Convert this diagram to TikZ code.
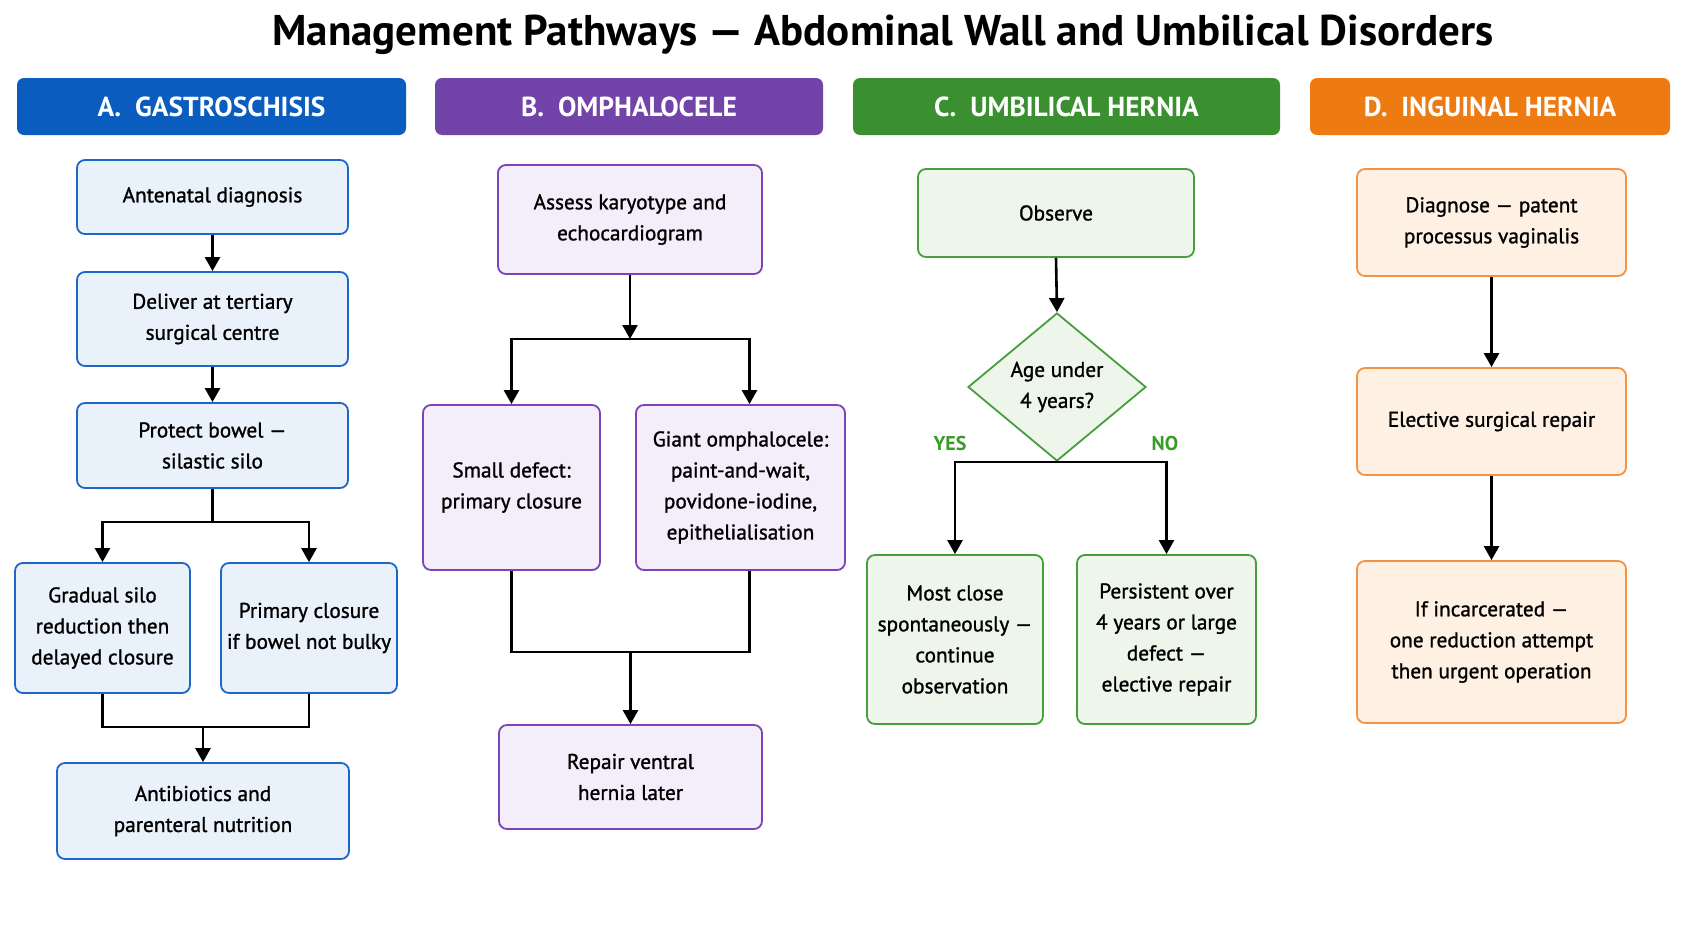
\documentclass[tikz,border=0pt]{standalone}
\usepackage{fontspec}
\setmainfont{PT Sans}
\newfontfamily\medfont[FakeBold=1.2]{PT Sans}
\usetikzlibrary{arrows.meta,shapes.geometric}
\definecolor{blueH}{HTML}{0B5CBF}
\definecolor{blueB}{HTML}{1F66C9}
\definecolor{blueF}{HTML}{E9F1FB}
\definecolor{purpH}{HTML}{7243A8}
\definecolor{purpB}{HTML}{7C44B5}
\definecolor{purpF}{HTML}{F3EEF9}
\definecolor{grnH}{HTML}{3A9030}
\definecolor{grnB}{HTML}{45A03A}
\definecolor{grnF}{HTML}{EEF6EC}
\definecolor{grnT}{HTML}{3A9A2A}
\definecolor{orgH}{HTML}{EE7A12}
\definecolor{orgB}{HTML}{F39243}
\definecolor{orgF}{HTML}{FEF1E4}
\tikzset{
  hdr/.style={rounded corners=7pt, minimum height=57pt, inner sep=0pt, text=white,
    font=\fontsize{27.5}{32}\selectfont\bfseries},
  box/.style={rounded corners=8pt, line width=1.8pt, inner sep=0pt, align=center,
    font=\medfont\fontsize{21.3}{31}\selectfont},
  bbox/.style={box, draw=blueB, fill=blueF},
  pbox/.style={box, draw=purpB, fill=purpF},
  gbox/.style={box, draw=grnB, fill=grnF},
  obox/.style={box, draw=orgB, fill=orgF},
  arr/.style={line width=2.6pt, -{Triangle[length=14pt,width=15pt]}},
  ln/.style={line width=2.6pt},
  lbl/.style={text=grnT, font=\fontsize{20}{22}\selectfont\bfseries},
}
\begin{document}
\begin{tikzpicture}[x=1pt,y=-1pt]
\useasboundingbox[fill=white] (0,0) rectangle (1693,929);
% title
\node[font=\fontsize{43}{48}\selectfont\bfseries] (title) at (883,35) {Management Pathways — Abdominal Wall and Umbilical Disorders};
% headers
\node[hdr, fill=blueH, minimum width=389pt] (hA) at (211.5,106.5) {A.\ \ GASTROSCHISIS};
\node[hdr, fill=purpH, minimum width=388pt] (hB) at (629,106.5) {B.\ \ OMPHALOCELE};
\node[hdr, fill=grnH, minimum width=427pt] (hC) at (1066.5,106.5) {C.\ \ UMBILICAL HERNIA};
\node[hdr, fill=orgH, minimum width=360pt] (hD) at (1490,106.5) {D.\ \ INGUINAL HERNIA};
% column A
\node[bbox, minimum width=271pt, minimum height=74pt] (a1) at (212.5,197) {Antenatal diagnosis};
\node[bbox, minimum width=271pt, minimum height=94pt] (a2) at (212.5,319) {Deliver at tertiary\\surgical centre};
\node[bbox, minimum width=271pt, minimum height=85pt] (a3) at (212.5,445.5) {Protect bowel —\\silastic silo};
\node[bbox, minimum width=175pt, minimum height=130pt] (a4) at (102.5,628) {Gradual silo\\reduction then\\delayed closure};
\node[bbox, minimum width=176pt, minimum height=130pt] (a5) at (309,628) {Primary closure\\if bowel not bulky};
\node[bbox, minimum width=292pt, minimum height=96pt] (a6) at (203,811) {Antibiotics and\\parenteral nutrition};
\coordinate (ja) at (212.5,522);
\coordinate (ma) at (203,727);
\draw[arr] (a1) -- (a2);
\draw[arr] (a2) -- (a3);
\draw[ln] (a3.south) -- (ja);
\draw[arr] (ja) -| (a4.north);
\draw[arr] (ja) -| (a5.north);
\draw[ln] (a4.south) |- (ma);
\draw[ln] (a5.south) |- (ma);
\draw[arr] (ma) -- (a6.north);
% column B
\node[pbox, minimum width=264pt, minimum height=109pt] (b1) at (630,219.5) {Assess karyotype and\\echocardiogram};
\node[pbox, minimum width=177pt, minimum height=165pt] (b2) at (511.5,487.5) {Small defect:\\primary closure};
\node[pbox, minimum width=209pt, minimum height=165pt] (b3) at (740.5,487.5) {Giant omphalocele:\\paint-and-wait,\\povidone-iodine,\\epithelialisation};
\node[pbox, minimum width=263pt, minimum height=104pt] (b4) at (630.5,777) {Repair ventral\\hernia later};
\coordinate (jb) at (630,339);
\coordinate (mb) at (630.5,652);
\draw[arr] (b1.south) -- (jb);
\draw[arr] (jb) -| (b2.north);
\draw[arr] (jb) -| ([xshift=9pt]b3.north);
\draw[ln] (b2.south) |- (mb);
\draw[ln] ([xshift=9pt]b3.south) |- (mb);
\draw[arr] (mb) -- (b4.north);
% column C
\node[gbox, minimum width=276pt, minimum height=88pt] (c1) at (1056,213) {Observe};
\node[diamond, draw=grnB, fill=grnF, line width=1.8pt, inner sep=0pt, minimum width=178pt, minimum height=148pt, align=center, font=\medfont\fontsize{21.3}{31}\selectfont] (c2) at (1057,387) {Age under\\4 years?};
\node[gbox, minimum width=176pt, minimum height=169pt] (c3) at (955,639.5) {Most close\\spontaneously —\\continue\\observation};
\node[gbox, minimum width=179pt, minimum height=169pt] (c4) at (1166.5,639.5) {Persistent over\\4 years or large\\defect —\\elective repair};
\draw[arr] (c1.south) -- (c2.north);
\draw[arr] (c2.south) -| (c3.north);
\draw[arr] (c2.south) -| (c4.north);
\node[lbl] (yes) at (950,443) {YES};
\node[lbl] (no) at (1165,443) {NO};
% column D
\node[obox, minimum width=269pt, minimum height=107pt] (d1) at (1491.5,222.5) {Diagnose — patent\\processus vaginalis};
\node[obox, minimum width=269pt, minimum height=107pt] (d2) at (1491.5,421.5) {Elective surgical repair};
\node[obox, minimum width=269pt, minimum height=162pt] (d3) at (1491.5,642) {If incarcerated —\\one reduction attempt\\then urgent operation};
\draw[arr] (d1) -- (d2);
\draw[arr] (d2) -- (d3);
\end{tikzpicture}
\end{document}
